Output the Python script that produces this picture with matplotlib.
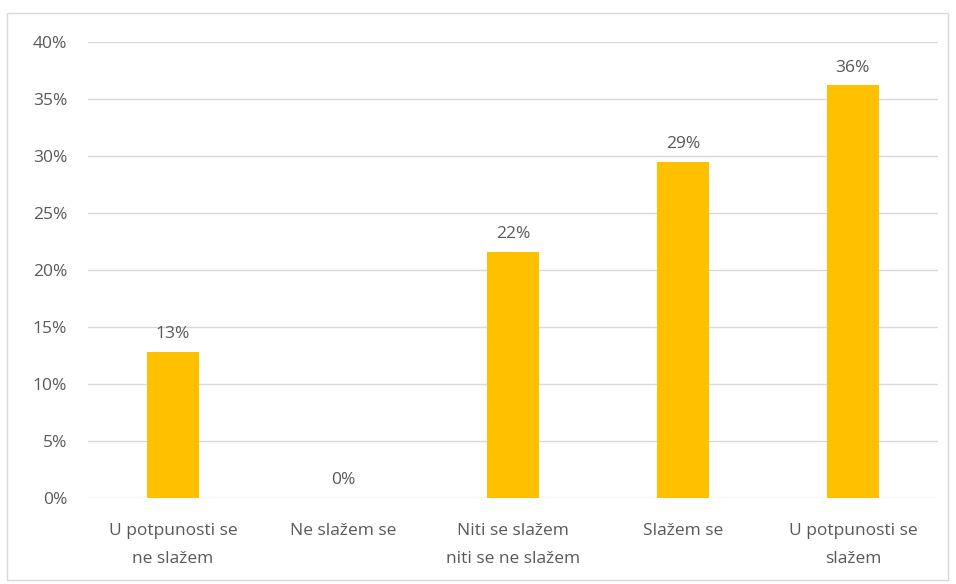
import matplotlib.pyplot as plt
from matplotlib.patches import Rectangle

# Dados do grafico
categorias = ['U potpunosti se\nne slažem', 'Ne slažem se', 'Niti se slažem\nniti se ne slažem',
              'Slažem se', 'U potpunosti se\nslažem']
valores = [12.8, 0.0, 21.6, 29.5, 36.2]
rotulos = ['13%', '0%', '22%', '29%', '36%']
yticks = [0, 5, 10, 15, 20, 25, 30, 35, 40]

cinza = '#595959'
plt.rcParams['font.family'] = ['Open Sans', 'DejaVu Sans']

fig = plt.figure(figsize=(9.56, 5.84), dpi=100)
ax = fig.add_axes([0.092, 0.147, 0.889, 0.781])

x = range(len(categorias))
ax.bar(x, valores, width=0.31, color='#FFC000', zorder=3)
for i, v in enumerate(valores):
    ax.annotate(rotulos[i], (i, v), xytext=(0, 7), textcoords='offset points',
                ha='center', va='bottom', fontsize=12.5, color=cinza)

ax.set_xlim(-0.5, len(categorias) - 0.5)
ax.set_ylim(0, 40)
ax.set_yticks(yticks)
ax.set_yticklabels([f'{t}%' for t in yticks])
ax.set_xticks(list(x))
ax.set_xticklabels(categorias, linespacing=2.0)
ax.grid(axis='y', color='#d9d9d9', linewidth=1, zorder=0)
for s in ax.spines.values():
    s.set_visible(False)
ax.tick_params(length=0, labelsize=12.5, labelcolor=cinza)
ax.tick_params(axis='y', pad=15)
ax.tick_params(axis='x', pad=18)

# borda do grafico
fig.patches.append(Rectangle((0.007, 0.007), 0.985, 0.97, transform=fig.transFigure,
                             fill=False, edgecolor='#d9d9d9', linewidth=1))

fig.savefig('out.png', dpi=100)
